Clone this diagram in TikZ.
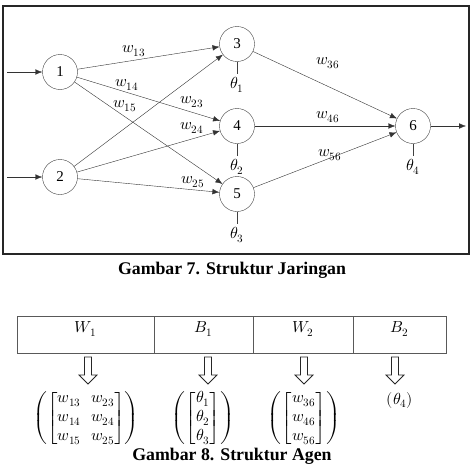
\documentclass[tikz,border=0pt]{standalone}
\usepackage{amsmath}
\usepackage{fontspec}
\usepackage{unicode-math}
\setmainfont{Liberation Serif}
\setmathfont{Latin Modern Math}
\usetikzlibrary{arrows.meta, positioning}
\tikzset{%
	every unit/.style={
		circle,
		draw=black!75,
		minimum size=35pt,
		inner sep=0pt,
		font=\fontsize{15}{17}\selectfont
	},
	wlabel/.style={
		inner sep=0pt,
		font=\fontsize{16}{18}\selectfont
	},
	conn/.style={
		draw=black!80,
		-{Latex[length=7pt,width=5.5pt]}
	},
	biasline/.style={draw=black!75},
	cell/.style={
		draw=black!65,
		rectangle,
		outer sep=0pt,
		inner sep=0pt,
		minimum height=37pt,
		text height=11pt,
		text depth=15pt,
		font=\fontsize{16}{18}\selectfont
	},
	hollowarrow/.pic={
		\draw[black!85, thick, line join=miter]
			(-3.5,0) -- (3.5,0) -- (3.5,18) -- (9,18) -- (0,27)
			-- (-9,18) -- (-3.5,18) -- cycle;
	},
	vector/.style={
		inner sep=0pt,
		font=\fontsize{16}{19}\selectfont
	},
	caption/.style={
		inner sep=0pt,
		font=\bfseries\fontsize{17.8}{20}\selectfont
	},
}
\begin{document}
\begin{tikzpicture}[x=1pt, y=-1pt]
	\useasboundingbox (0,0) rectangle (471,471);
	\draw[black!85, line width=1.4pt] (3,6) rectangle (469,254);
	
	\node[every unit] (n1) at (60,72) {1};
	\node[every unit] (n2) at (60,177) {2};
	\node[every unit] (n3) at (237,44) {3};
	\node[every unit] (n4) at (237,126) {4};
	\node[every unit] (n5) at (237,194) {5};
	\node[every unit] (n6) at (413,126) {6};
	
	\coordinate (in1) at (7,72);
	\coordinate (in2) at (7,177);
	\coordinate (out) at (466,126);
	\draw[conn] (in1) -- (n1);
	\draw[conn] (in2) -- (n2);
	\draw[conn] (n6) -- (out);
	
	\foreach \a in {1,2}
		\foreach \b in {3,4,5}
			\draw[conn] (n\a) -- (n\b);
	\foreach \b in {3,4,5}
		\draw[conn] (n\b) -- (n6);
	
	\node[wlabel] (l13) at (134,51) {$w_{13}$};
	\node[wlabel] (l14) at (127,85) {$w_{14}$};
	\node[wlabel] (l15) at (125,106) {$w_{15}$};
	\node[wlabel] (l23) at (192,102) {$w_{23}$};
	\node[wlabel] (l24) at (192,128) {$w_{24}$};
	\node[wlabel] (l25) at (193,182) {$w_{25}$};
	\node[wlabel] (l36) at (328,63) {$w_{36}$};
	\node[wlabel] (l46) at (328,117) {$w_{46}$};
	\node[wlabel] (l56) at (330,155) {$w_{56}$};
	
	\draw[biasline] (n3.south) -- ++(0,12) coordinate (b3);
	\draw[biasline] (n4.south) -- ++(0,12) coordinate (b4);
	\draw[biasline] (n5.south) -- ++(0,12) coordinate (b5);
	\draw[biasline] (n6.south) -- ++(0,12) coordinate (b6);
	\node[wlabel, below=3pt of b3] (t1) {$\theta_1$};
	\node[wlabel, below=3pt of b4] (t2) {$\theta_2$};
	\node[wlabel, below=3pt of b5] (t3) {$\theta_3$};
	\node[wlabel, below=3pt of b6] (t4) {$\theta_4$};
	
	\node[caption] (cap7) at (232,270) {Gambar 7. Struktur Jaringan};
	
	\node[cell, minimum width=137pt, anchor=north west] (cW1) at (17,316) {$W_1$};
	\node[cell, minimum width=99pt, right=0pt of cW1] (cB1) {$B_1$};
	\node[cell, minimum width=100pt, right=0pt of cB1] (cW2) {$W_2$};
	\node[cell, minimum width=93pt, right=0pt of cW2] (cB2) {$B_2$};
	
	\pic (aW1) at (88,357) {hollowarrow};
	\pic (aB1) at (208,357) {hollowarrow};
	\pic (aW2) at (304,357) {hollowarrow};
	\pic (aB2) at (395,357) {hollowarrow};
	
	\node[vector] (vW1) at (86,418) {$\left(\begin{bmatrix} w_{13} & w_{23}\\ w_{14} & w_{24}\\ w_{15} & w_{25}\end{bmatrix}\right)$};
	\node[vector] (vB1) at (203,418) {$\left(\begin{bmatrix} \theta_1\\ \theta_2\\ \theta_3\end{bmatrix}\right)$};
	\node[vector] (vW2) at (304,418) {$\left(\begin{bmatrix} w_{36}\\ w_{46}\\ w_{56}\end{bmatrix}\right)$};
	\node[vector] (vB2) at (400,400) {$(\theta_4)$};
	
	\node[caption] (cap8) at (232,456) {Gambar 8. Struktur Agen};
\end{tikzpicture}
\end{document}
